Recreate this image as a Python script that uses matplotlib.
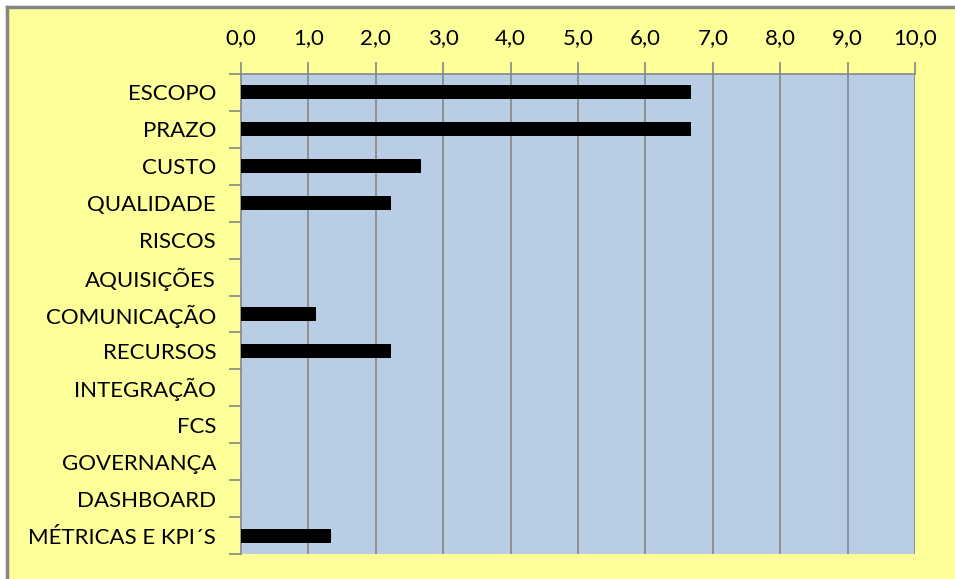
import numpy as np
import matplotlib
matplotlib.use("Agg")
import matplotlib.pyplot as plt
from matplotlib.lines import Line2D

categorias = ["ESCOPO", "PRAZO", "CUSTO", "QUALIDADE", "RISCOS", "AQUISIÇÕES",
              "COMUNICAÇÃO", "RECURSOS", "INTEGRAÇÃO", "FCS", "GOVERNANÇA",
              "DASHBOARD", "MÉTRICAS E KPI´S"]
valores = [6.67, 6.67, 2.67, 2.22, 0, 0, 1.11, 2.22, 0, 0, 0, 0, 1.33]
xticks = np.arange(0, 11, 1)
xlabels = ["%.1f" % v for v in xticks]
xlabels = [s.replace(".", ",") for s in xlabels]

amarelo = "#FFFF99"
azul = "#B9CDE5"
cinza = "#868686"

plt.rcParams['font.family'] = ['Lato', 'DejaVu Sans']

fig = plt.figure(figsize=(9.55, 5.79), dpi=100, facecolor=amarelo)
ax = fig.add_axes([241/955, 1 - 554/579, (915-241)/955, (554-74)/579])
ax.set_facecolor(azul)

y = np.arange(len(categorias))
ax.barh(y, valores, height=0.38, color="black", zorder=3)

ax.set_xlim(0, 10)
ax.set_ylim(len(categorias) - 0.5, -0.5)
ax.xaxis.tick_top()
ax.set_xticks(xticks)
ax.set_xticklabels(xlabels, fontsize=16)
ax.tick_params(axis='x', direction='out', length=9, color=cinza, width=1.2, pad=10)
ax.set_yticks(y)
ax.set_yticklabels(categorias, fontsize=16)
ax.tick_params(axis='y', which='major', length=0, pad=18)
ax.set_yticks(np.arange(-0.5, len(categorias), 1), minor=True)
ax.tick_params(axis='y', which='minor', length=9, color=cinza, width=1.2)

for v in xticks[1:]:
    ax.axvline(v, color=cinza, lw=1.2, zorder=1)

for s in ["bottom", "right"]:
    ax.spines[s].set_visible(False)
for s in ["top", "left"]:
    ax.spines[s].set_color(cinza)
    ax.spines[s].set_linewidth(1.2)

# moldura cinza do grafico
fig.add_artist(Line2D([7/955, 7/955], [0, 1 - 7/579], color=cinza, lw=2.5))
fig.add_artist(Line2D([7/955, 1], [1 - 7/579, 1 - 7/579], color=cinza, lw=2.5))
fig.add_artist(plt.Rectangle((0, 1 - 6/579), 1, 6/579, color="white", zorder=-1))
fig.add_artist(plt.Rectangle((0, 0), 6/955, 1, color="white", zorder=-1))

fig.savefig("out.png", dpi=100, facecolor=amarelo)
